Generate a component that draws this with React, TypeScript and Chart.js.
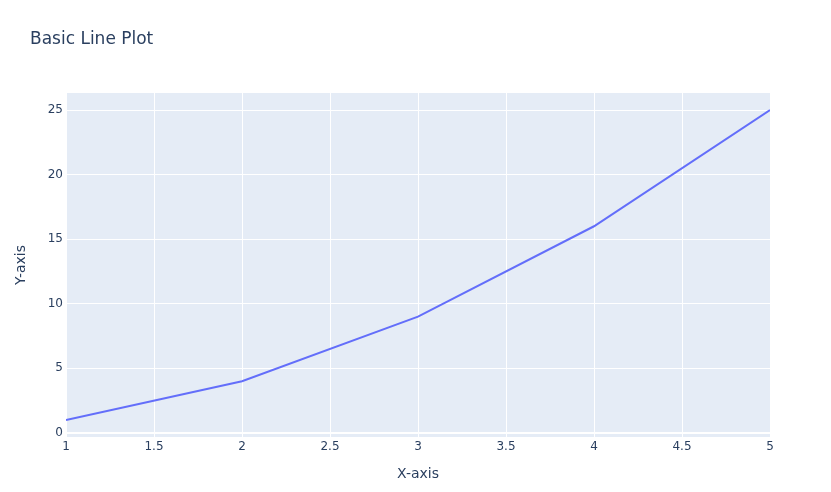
import React, { useEffect, useRef } from "react";
import { Chart, registerables } from "chart.js";

Chart.register(...registerables);

const xValues = [1, 2, 3, 4, 5];
const yValues = [1, 4, 9, 16, 25];
const xTicks = [1, 1.5, 2, 2.5, 3, 3.5, 4, 4.5, 5];
const yTicks = [0, 5, 10, 15, 20, 25];
const titleText = "Basic Line Plot";
const xTitle = "X-axis";
const yTitle = "Y-axis";

const FONT = "'DejaVu Sans', verdana, arial, sans-serif";
const TEXT = "#2a3f5f";

export default function App() {
  const ref = useRef<HTMLCanvasElement | null>(null);
  useEffect(() => {
    if (!ref.current) return;
    const bgPlugin = {
      id: "plotBg",
      beforeDraw(chart: any) {
        const { ctx, chartArea } = chart;
        ctx.save();
        ctx.fillStyle = "#E5ECF6";
        ctx.fillRect(chartArea.left, chartArea.top, chartArea.right - chartArea.left, chartArea.bottom - chartArea.top);
        ctx.restore();
      },
      afterDraw(chart: any) {
        const { ctx, chartArea } = chart;
        ctx.save();
        ctx.fillStyle = TEXT;
        ctx.font = `17px ${FONT}`;
        ctx.textAlign = "left";
        ctx.textBaseline = "alphabetic";
        ctx.fillText(titleText, 30, 44);
        ctx.font = `14px ${FONT}`;
        ctx.textAlign = "center";
        ctx.textBaseline = "middle";
        ctx.fillText(xTitle, (chartArea.left + chartArea.right) / 2, 474);
        ctx.translate(21, (chartArea.top + chartArea.bottom) / 2);
        ctx.rotate(-Math.PI / 2);
        ctx.fillText(yTitle, 0, 0);
        ctx.restore();
      },
    };
    const chart = new Chart(ref.current, {
      type: "line",
      data: {
        datasets: [
          {
            data: xValues.map((x, i) => ({ x, y: yValues[i] })),
            borderColor: "#636EFA",
            borderWidth: 2,
            pointRadius: 0,
            tension: 0,
            fill: false,
          },
        ],
      },
      options: {
        animation: false,
        responsive: false,
        maintainAspectRatio: false,
        layout: { padding: { top: 93, right: 61, left: 0, bottom: 0 } },
        plugins: { legend: { display: false }, tooltip: { enabled: false }, title: { display: false } },
        scales: {
          x: {
            type: "linear",
            min: 1,
            max: 5,
            afterFit(scale: any) {
              scale.height = 55;
            },
            afterBuildTicks(scale: any) {
              scale.ticks = xTicks.map((v) => ({ value: v }));
            },
            ticks: {
              color: TEXT,
              font: { family: FONT, size: 12 },
              padding: 3,
              maxRotation: 0,
              autoSkip: false,
              callback: (v: any) => String(v),
            },
            grid: {
              color: "#ffffff",
              lineWidth: 1,
              drawTicks: false,
            },
            border: { display: false },
          },
          y: {
            type: "linear",
            min: -0.32,
            max: 26.32,
            afterFit(scale: any) {
              scale.width = 66;
            },
            afterBuildTicks(scale: any) {
              scale.ticks = yTicks.map((v) => ({ value: v }));
            },
            ticks: {
              color: TEXT,
              font: { family: FONT, size: 12 },
              padding: 3,
              autoSkip: false,
              callback: (v: any) => String(v),
            },
            grid: {
              color: "#ffffff",
              lineWidth: (c: any) => (c.tick && c.tick.value === 0 ? 2 : 1),
              drawTicks: false,
            },
            border: { display: false },
          },
        },
      },
      plugins: [bgPlugin],
    } as any);
    return () => chart.destroy();
  }, []);
  return (
    <div style={{ position: "absolute", left: 0, top: 0, width: 831, height: 492, background: "#fff" }}>
      <canvas ref={ref} width={831} height={492} style={{ width: 831, height: 492 }} />
    </div>
  );
}
